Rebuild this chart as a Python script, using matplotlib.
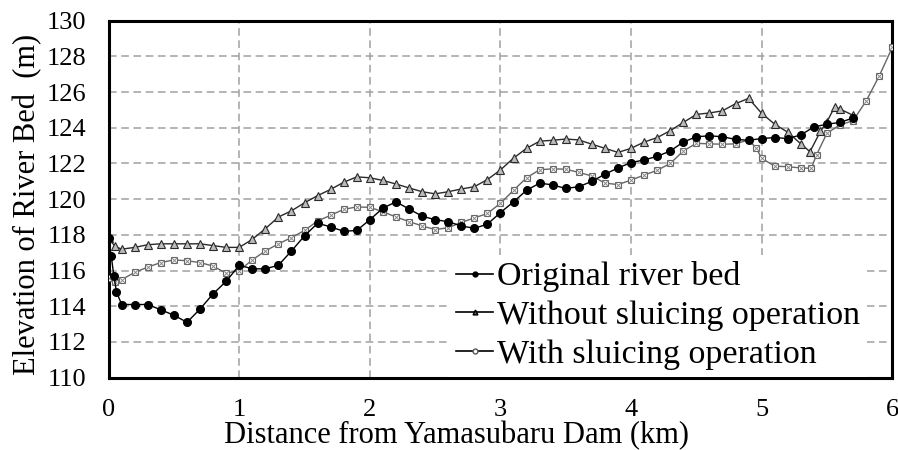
import matplotlib
matplotlib.use("Agg")
import matplotlib.pyplot as plt
from matplotlib.lines import Line2D

plt.rcParams['font.family'] = ['Liberation Serif', 'DejaVu Serif']

# distance from dam (km) and river bed elevation (m)
orig_km = [0.0, 0.02, 0.04, 0.06, 0.1, 0.2, 0.3, 0.4, 0.5, 0.6, 0.7, 0.8, 0.9, 1.0,
           1.1, 1.2, 1.3, 1.4, 1.5, 1.6, 1.7, 1.8, 1.9, 2.0, 2.1, 2.2, 2.3, 2.4, 2.5,
           2.6, 2.7, 2.8, 2.9, 3.0, 3.1, 3.2, 3.3, 3.4, 3.5, 3.6, 3.7, 3.8, 3.9, 4.0,
           4.1, 4.2, 4.3, 4.4, 4.5, 4.6, 4.7, 4.8, 4.9, 5.0, 5.1, 5.2, 5.3, 5.4, 5.5,
           5.6, 5.7]
orig_elev = [117.8, 116.8, 115.7, 114.8, 114.1, 114.1, 114.1, 113.8, 113.5, 113.1,
             113.85, 114.7, 115.4, 116.3, 116.1, 116.1, 116.3, 117.1, 117.95, 118.65,
             118.45, 118.2, 118.25, 118.85, 119.5, 119.85, 119.45, 119.05, 118.85,
             118.74, 118.5, 118.37, 118.6, 119.25, 119.85, 120.5, 120.9, 120.8, 120.6,
             120.7, 121.0, 121.4, 121.75, 122.05, 122.2, 122.4, 122.7, 123.2, 123.5,
             123.55, 123.5, 123.35, 123.3, 123.4, 123.45, 123.4, 123.6, 124.05, 124.2,
             124.3, 124.55]

without_km = [0.0, 0.05, 0.1, 0.2, 0.3, 0.4, 0.5, 0.6, 0.7, 0.8, 0.9, 1.0, 1.1, 1.2,
              1.3, 1.4, 1.5, 1.6, 1.7, 1.8, 1.9, 2.0, 2.1, 2.2, 2.3, 2.4, 2.5, 2.6,
              2.7, 2.8, 2.9, 3.0, 3.1, 3.2, 3.3, 3.4, 3.5, 3.6, 3.7, 3.8, 3.9, 4.0,
              4.1, 4.2, 4.3, 4.4, 4.5, 4.6, 4.7, 4.8, 4.9, 5.0, 5.1, 5.2, 5.3, 5.37,
              5.45, 5.5, 5.56, 5.6, 5.7]
without_elev = [117.8, 117.35, 117.2, 117.3, 117.45, 117.5, 117.5, 117.5, 117.5, 117.4,
                117.3, 117.3, 117.75, 118.35, 119.0, 119.35, 119.8, 120.2, 120.55,
                120.95, 121.25, 121.2, 121.05, 120.85, 120.63, 120.42, 120.3, 120.42,
                120.57, 120.7, 121.1, 121.64, 122.3, 122.85, 123.25, 123.3, 123.37,
                123.32, 123.08, 122.85, 122.62, 122.85, 123.2, 123.45, 123.84, 124.3,
                124.75, 124.83, 124.95, 125.35, 125.65, 124.81, 124.2, 123.75, 123.1,
                122.66, 123.8, 124.34, 125.18, 125.05, 124.7]

with_km = [0.0, 0.05, 0.1, 0.2, 0.3, 0.4, 0.5, 0.6, 0.7, 0.8, 0.9, 1.0, 1.1, 1.2, 1.3,
           1.4, 1.5, 1.6, 1.7, 1.8, 1.9, 2.0, 2.1, 2.2, 2.3, 2.4, 2.5, 2.6, 2.7, 2.8,
           2.9, 3.0, 3.1, 3.2, 3.3, 3.4, 3.5, 3.6, 3.7, 3.8, 3.9, 4.0, 4.1, 4.2, 4.3,
           4.4, 4.5, 4.6, 4.7, 4.8, 4.9, 4.96, 5.0, 5.1, 5.2, 5.3, 5.38, 5.42, 5.5,
           5.6, 5.7, 5.8, 5.9, 6.0]
with_elev = [115.6, 115.35, 115.5, 115.9, 116.2, 116.45, 116.6, 116.55, 116.45, 116.25,
             115.85, 116.0, 116.6, 117.1, 117.5, 117.85, 118.25, 118.78, 119.1, 119.43,
             119.57, 119.54, 119.3, 119.0, 118.75, 118.5, 118.3, 118.4, 118.7, 118.95,
             119.2, 119.77, 120.5, 121.2, 121.65, 121.7, 121.68, 121.5, 121.3, 120.9,
             120.82, 121.07, 121.35, 121.62, 122.0, 122.7, 123.13, 123.1, 123.08, 123.1,
             123.32, 122.85, 122.29, 121.85, 121.82, 121.75, 121.73, 122.48, 123.7,
             124.16, 124.4, 125.5, 126.9, 128.5]

series_labels = ["Original river bed", "Without sluicing operation", "With sluicing operation"]
x_ticks = [0, 1, 2, 3, 4, 5, 6]
y_ticks = [110, 112, 114, 116, 118, 120, 122, 124, 126, 128, 130]

fig = plt.figure(figsize=(8.98, 4.5), dpi=100)
ax = fig.add_axes([0.121, 0.1607, 0.8726, 0.7933])

# with sluicing: open squares crossed
ax.plot(with_km, with_elev, color='#666666', lw=1.0, marker='s', ms=5,
        mfc='white', mec='#666666', mew=0.8, zorder=3)
ax.plot(with_km, with_elev, ls='none', marker='x', ms=4.5, mec='#888888',
        mew=0.7, zorder=3)
# without sluicing: triangles
ax.plot(without_km, without_elev, color='#2a2a2a', lw=1.0, marker='^', ms=5.5,
        mfc='#bbbbbb', mec='#2a2a2a', mew=0.8, zorder=4)
# original bed: filled circles
ax.plot(orig_km, orig_elev, color='black', lw=1.0, marker='o', ms=5.5,
        mfc='black', mec='black', zorder=5)

ax.set_xlim(0, 6)
ax.set_ylim(110, 130)
ax.set_xticks(x_ticks)
ax.set_yticks(y_ticks)
ax.tick_params(length=0, labelsize=19, pad=15)
ax.tick_params(axis='y', pad=16)
ax.grid(True, color='#a0a0a0', ls=(0, (5, 3)), lw=1.1)
for sp in ax.spines.values():
    sp.set_linewidth(2.2)

ax.set_xlabel("Distance from Yamasubaru Dam (km)", fontsize=22, va='baseline')
ax.xaxis.set_label_coords(0.444, -0.183)
ax.set_ylabel("Elevation of River Bed  (m)", fontsize=22)
ax.yaxis.set_label_coords(-0.085, 0.484)

handles = [
    Line2D([], [], color='black', lw=1.2, marker='o', ms=3.5, mfc='black', mec='black'),
    Line2D([], [], color='black', lw=1.2, marker='^', ms=3.5, mfc='#555555', mec='black'),
    Line2D([], [], color='black', lw=1.2, marker='o', ms=3.5, mfc='white', mec='#555555'),
]
leg = ax.legend(handles, series_labels, loc='center left', bbox_to_anchor=(0.4126, 0.174),
                fontsize=24.5, frameon=True, fancybox=False, framealpha=1,
                edgecolor='none', facecolor='white', handlelength=1.1,
                handletextpad=0.12, labelspacing=0.23, borderpad=0.2)
leg.set_zorder(10)

fig.savefig("out.png", dpi=100)
